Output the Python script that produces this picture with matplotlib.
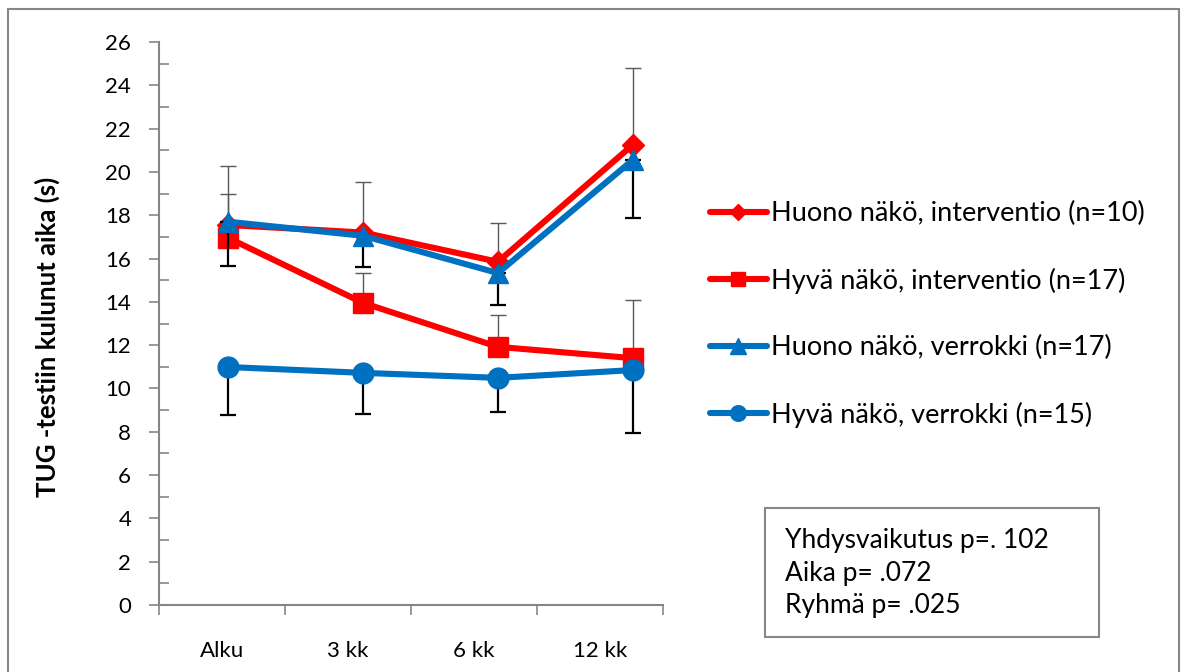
import numpy as np
import matplotlib
matplotlib.use("Agg")
import matplotlib.pyplot as plt
from matplotlib.patches import Rectangle
from matplotlib.ticker import MultipleLocator, FixedLocator

plt.rcParams['font.family'] = ['Lato', 'DejaVu Sans']

# data
categories = ['Alku', '3 kk', '6 kk', '12 kk']
labels = ['Huono näkö, interventio (n=10)', 'Hyvä näkö, interventio (n=17)',
          'Huono näkö, verrokki (n=17)', 'Hyvä näkö, verrokki (n=15)']

huono_int = [17.55, 17.2, 15.85, 21.25]
hyva_int = [16.95, 13.95, 11.92, 11.4]
huono_ver = [17.7, 17.05, 15.33, 20.55]
hyva_ver = [10.99, 10.72, 10.49, 10.85]

# error bar ends (upper for intervention, lower for control)
huono_int_up = [20.28, 19.54, 17.65, 24.8]
hyva_int_up = [18.98, 15.33, 13.4, 14.09]
huono_ver_low = [15.66, 15.6, 13.86, 17.88]
hyva_ver_low = [8.78, 8.82, 8.91, 7.94]

stats_text = 'Yhdysvaikutus p=. 102\nAika p= .072\nRyhmä p= .025'

RED = '#ff0000'
BLUE = '#0070c0'
AXIS_GREY = '#868686'

fig = plt.figure(figsize=(11.87, 6.72), dpi=100)
ax = fig.add_axes([159 / 1187, 1 - 605 / 672, 504 / 1187, 563 / 672])

# the points sit slightly off the category centres in the original
x = 0.55 + 1.07 * np.arange(len(categories))

series = [
    (huono_int, huono_int_up, 'up', RED, 'D', 11),
    (hyva_int, hyva_int_up, 'up', RED, 's', 14),
    (huono_ver, huono_ver_low, 'low', BLUE, '^', 15),
    (hyva_ver, hyva_ver_low, 'low', BLUE, 'o', 15),
]

for i, (vals, ends, side, col, mk, ms) in enumerate(series):
    vals = np.array(vals)
    ends = np.array(ends)
    if side == 'up':
        yerr = [np.zeros(len(vals)), ends - vals]
        ecol, elw = '#595959', 1.0
    else:
        yerr = [vals - ends, np.zeros(len(vals))]
        ecol, elw = 'black', 1.6
    ax.errorbar(x, vals, yerr=yerr, fmt='none', ecolor=ecol, elinewidth=elw,
                capsize=6, capthick=elw, zorder=2 + i)
    ax.plot(x, vals, color=col, lw=4.4, marker=mk, markersize=ms,
            markeredgecolor=col, label=labels[i], zorder=3 + i,
            solid_capstyle='round')

ax.set_xlim(0, 4)
ax.set_ylim(0, 26)
ax.yaxis.set_major_locator(MultipleLocator(2))
ax.yaxis.set_minor_locator(MultipleLocator(1))
ax.xaxis.set_major_locator(FixedLocator([0, 1, 2, 3, 4]))
ax.xaxis.set_minor_locator(FixedLocator([0.5, 1.5, 2.5, 3.5]))
ax.set_xticklabels([])
ax.set_xticklabels(categories, minor=True)

for s in ['top', 'right']:
    ax.spines[s].set_visible(False)
for s in ['left', 'bottom']:
    ax.spines[s].set_color(AXIS_GREY)
    ax.spines[s].set_linewidth(1.5)

ax.tick_params(axis='y', which='major', direction='out', length=7, width=1.2,
               color=AXIS_GREY, labelsize=16, pad=13)
ax.tick_params(axis='y', which='minor', direction='in', length=7, width=1.2,
               color=AXIS_GREY)
ax.tick_params(axis='x', which='major', direction='out', length=7, width=1.2,
               color=AXIS_GREY)
ax.tick_params(axis='x', which='minor', length=0, labelsize=16, pad=26)

ax.set_ylabel('TUG -testiin kulunut aika (s)', fontsize=18.5, fontweight='bold')
ax.yaxis.set_label_coords(-0.196, 0.476)

ax.legend(loc='upper left', bbox_to_anchor=(710 / 1187, 1 - 201 / 672),
          bbox_transform=fig.transFigure, frameon=False, fontsize=19.5,
          handlelength=2.1, handletextpad=0.15, labelspacing=1.53,
          borderpad=0, borderaxespad=0, markerscale=0.75)

# stats box
fig.patches.append(Rectangle((765 / 1187, 1 - 637 / 672), 334 / 1187, 129 / 672,
                             transform=fig.transFigure, fill=False,
                             edgecolor=AXIS_GREY, lw=1.5))
fig.text(785 / 1187, 1 - 573 / 672, stats_text, fontsize=19, va='center',
         ha='left', linespacing=1.38)

# outer chart border
fig.patches.append(Rectangle((8 / 1187, -0.05), 1171 / 1187, 1.05 - 9 / 672,
                             transform=fig.transFigure, fill=False,
                             edgecolor=AXIS_GREY, lw=1.5))

fig.savefig('out.png', dpi=100)
